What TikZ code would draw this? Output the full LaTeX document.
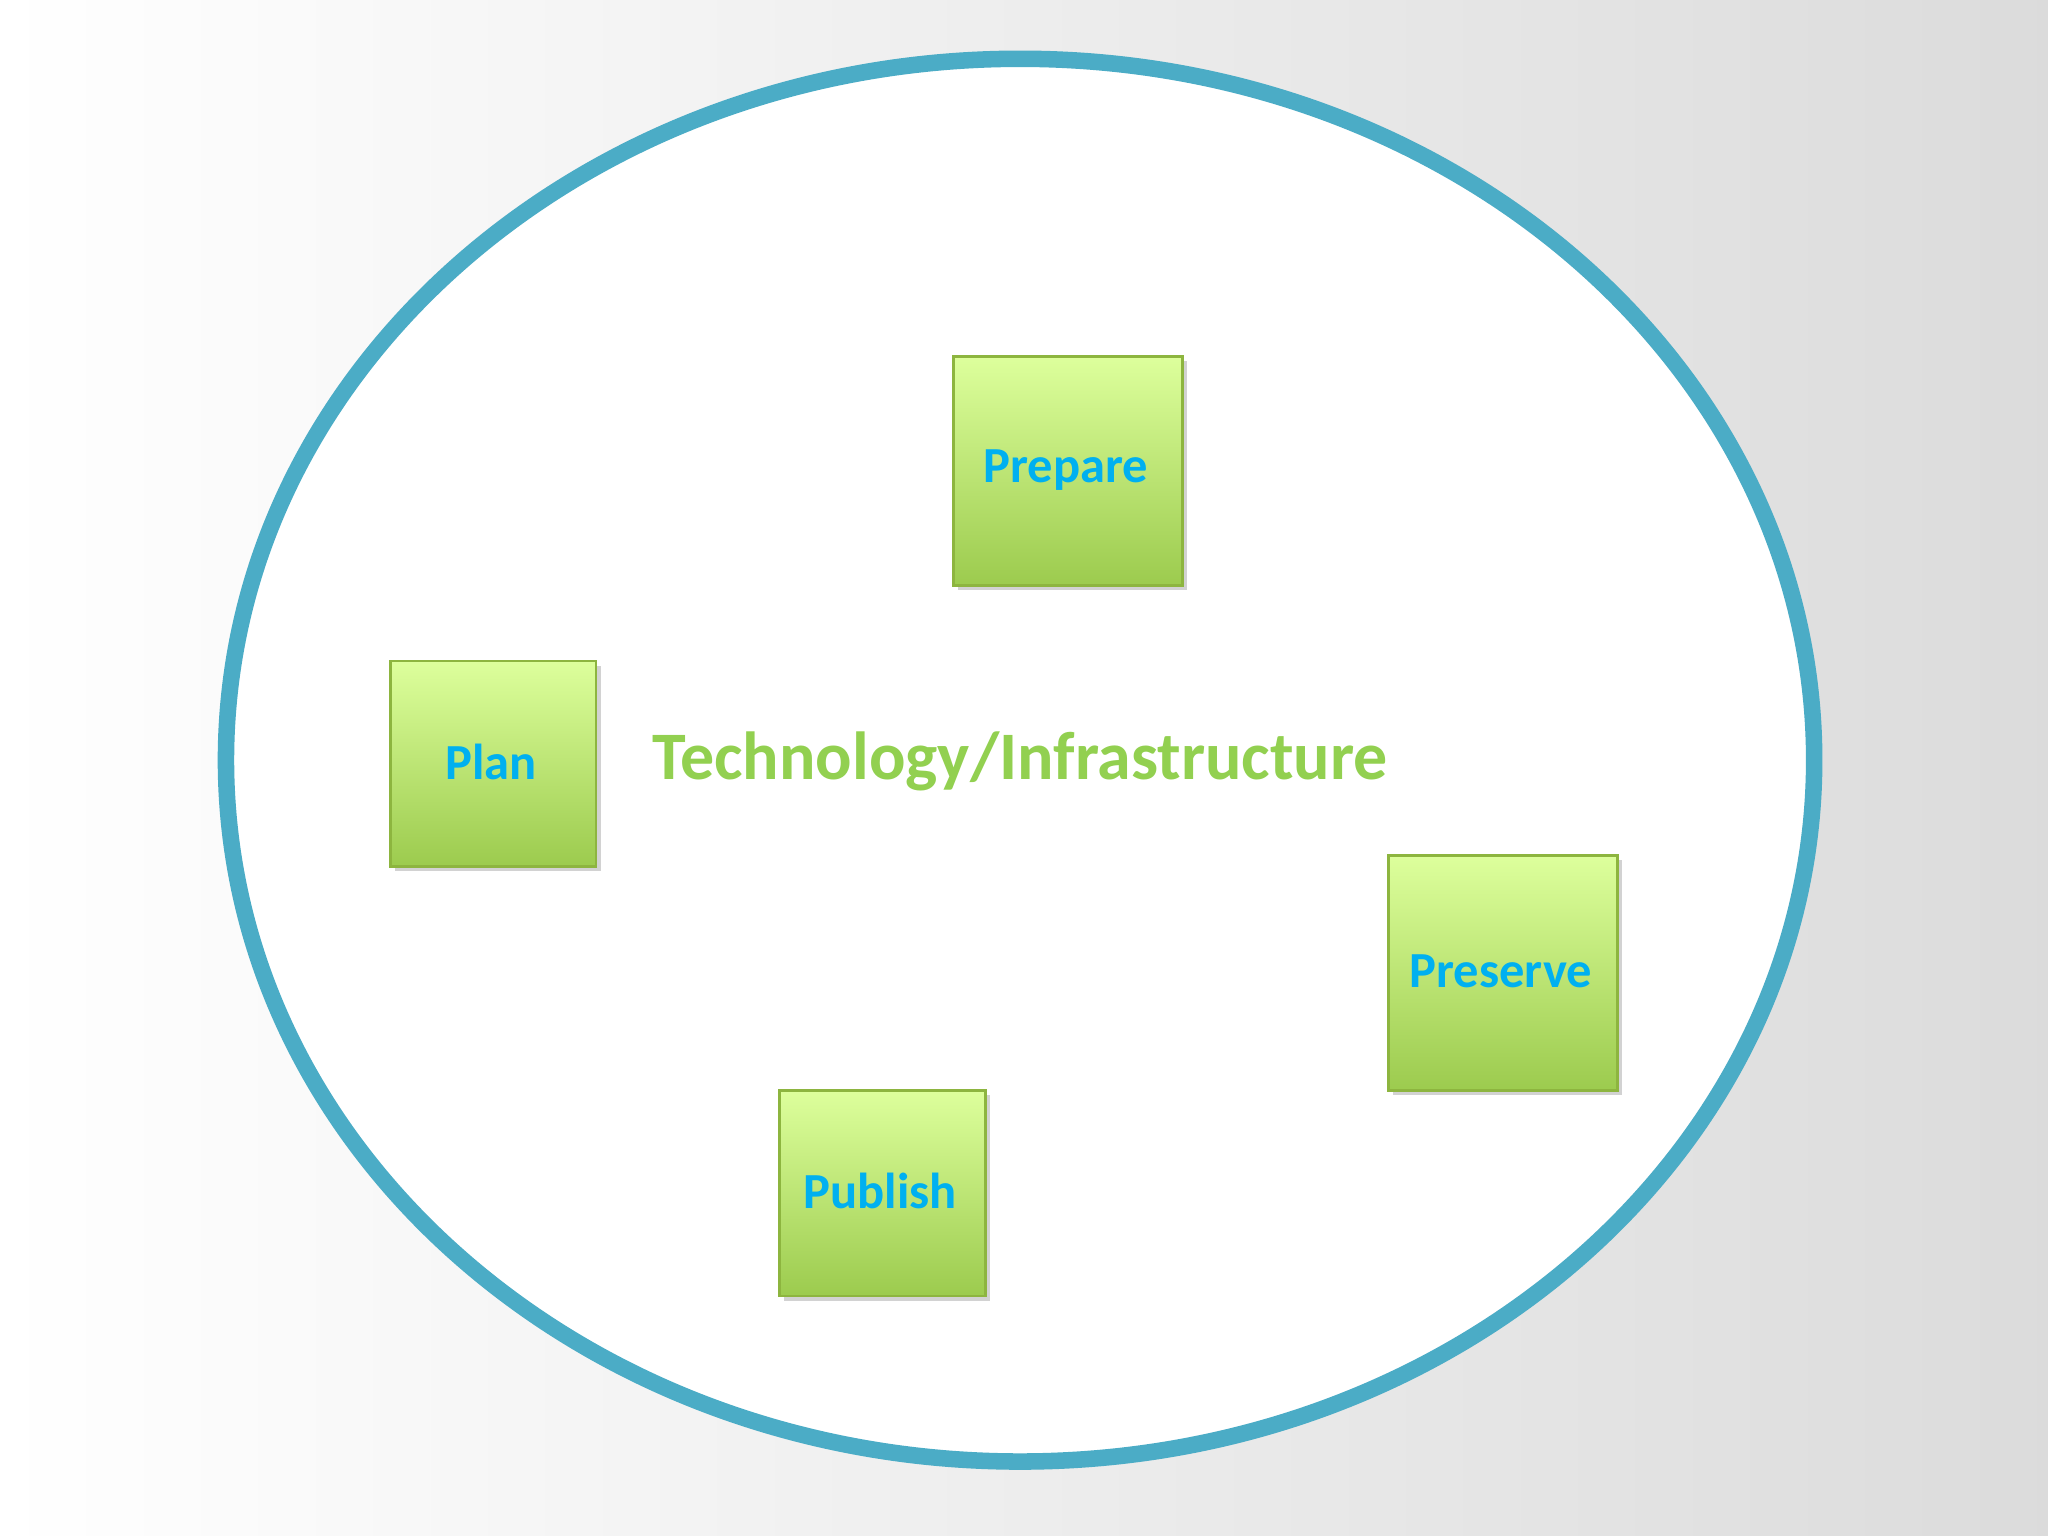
\documentclass[tikz,border=0pt]{standalone}
\usepackage{fontspec}
\setmainfont{Carlito}
\usetikzlibrary{shadows}
\definecolor{ring}{HTML}{4BACC6}
\definecolor{boxtop}{HTML}{DDFF9C}
\definecolor{boxbot}{HTML}{9CCB4E}
\definecolor{boxline}{HTML}{8DB53F}
\definecolor{lbl}{HTML}{00B0F0}
\definecolor{tech}{HTML}{92D050}
\tikzset{
  stagebox/.style={draw=boxline, line width=0.6pt, top color=boxtop, bottom color=boxbot,
    minimum width=#1, minimum height=#1, anchor=north west, inner sep=0pt,
    drop shadow={shadow xshift=1pt, shadow yshift=-1pt, opacity=0.35}},
  stagelbl/.style={text=lbl, font=\bfseries\fontsize{11}{13}\selectfont},
}
\begin{document}
\begin{tikzpicture}[x=0.01cm,y=-0.01cm]
\useasboundingbox (0,0) rectangle (1568,1176);
\shade[left color=white, right color=gray!28] (0,0) rectangle (1568,1176);
\draw[ring, line width=3.6pt, fill=white] (781,582) ellipse [x radius=608, y radius=537];
\node[stagebox=49.8pt] (prepare) at (729,272) {};
\node[stagelbl] (preparet) at (816,360) {Prepare};
\node[stagebox=44.7pt] (plan) at (298,505) {};
\node[stagelbl] (plant) at (376,583) {Plan};
\node[stagebox=49.8pt, minimum height=51.2pt] (preserve) at (1062,654) {};
\node[stagelbl] (preservet) at (1149,744) {Preserve};
\node[stagebox=44.7pt] (publish) at (596,834) {};
\node[stagelbl] (publisht) at (674,912) {Publish};
\node[text=tech, font=\bfseries\fontsize{14.8}{17}\selectfont] (techlbl) at (781,583) {Technology/Infrastructure};
\end{tikzpicture}
\end{document}
